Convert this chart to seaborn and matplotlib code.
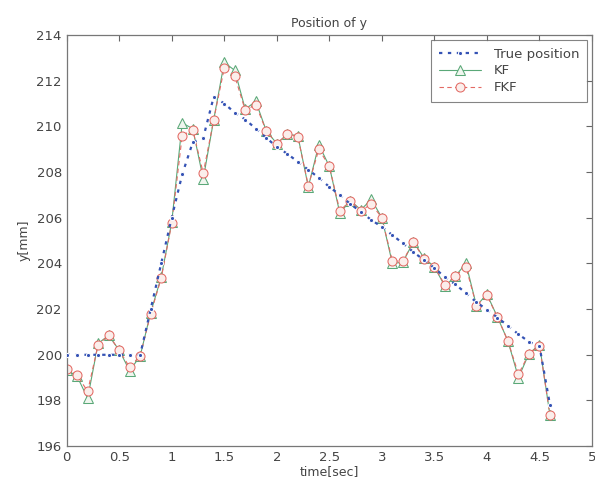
import pandas as pd
import matplotlib
matplotlib.use("Agg")
import matplotlib.pyplot as plt
import seaborn as sns

# time samples (sec)
t = [0.0, 0.1, 0.2, 0.3, 0.4, 0.5, 0.6, 0.7, 0.8, 0.9,
     1.0, 1.1, 1.2, 1.3, 1.4, 1.5, 1.6, 1.7, 1.8, 1.9,
     2.0, 2.1, 2.2, 2.3, 2.4, 2.5, 2.6, 2.7, 2.8, 2.9,
     3.0, 3.1, 3.2, 3.3, 3.4, 3.5, 3.6, 3.7, 3.8, 3.9,
     4.0, 4.1, 4.2, 4.3, 4.4, 4.5, 4.6]

true_pos = [200.0, 200.0, 200.0, 200.0, 200.0, 200.0, 200.0, 200.0, 202.0, 204.0,
            206.0, 207.9, 209.3, 209.5, 211.3, 211.0, 210.6, 210.3, 209.9, 209.5,
            209.1, 208.8, 208.45, 208.1, 207.75, 207.35, 207.0, 206.6, 206.26, 205.9,
            205.6, 205.24, 204.88, 204.5, 204.15, 203.8, 203.4, 203.08, 202.7, 202.3,
            201.98, 201.63, 201.27, 200.9, 200.57, 200.38, 197.8]

kf = [199.35, 199.05, 198.1, 200.5, 200.85, 200.2, 199.3, 199.95, 201.85, 203.4,
      205.8, 210.15, 209.9, 207.7, 210.3, 212.8, 212.45, 210.75, 211.1, 209.8,
      209.25, 209.65, 209.6, 207.35, 209.2, 208.25, 206.2, 206.75, 206.35, 206.8,
      206.0, 204.0, 204.05, 204.95, 204.25, 203.85, 203.0, 203.45, 204.0, 202.15,
      202.65, 201.65, 200.6, 199.0, 200.05, 200.45, 197.35]

fkf = [199.4, 199.1, 198.4, 200.45, 200.85, 200.2, 199.45, 199.95, 201.8, 203.35,
       205.75, 209.6, 209.85, 207.95, 210.3, 212.55, 212.2, 210.7, 210.95, 209.8,
       209.25, 209.65, 209.55, 207.4, 209.0, 208.25, 206.3, 206.75, 206.3, 206.6,
       206.0, 204.1, 204.1, 204.95, 204.2, 203.85, 203.05, 203.45, 203.85, 202.15,
       202.6, 201.65, 200.6, 199.15, 200.05, 200.4, 197.35]

x_ticks = [0, 0.5, 1, 1.5, 2, 2.5, 3, 3.5, 4, 4.5, 5]
x_labels = ["0", "0.5", "1", "1.5", "2", "2.5", "3", "3.5", "4", "4.5", "5"]
y_ticks = [196, 198, 200, 202, 204, 206, 208, 210, 212, 214]

df = pd.DataFrame({"time": t, "True position": true_pos, "KF": kf, "FKF": fkf})

sns.set_style("white")
plt.rcParams["font.family"] = ["DejaVu Sans"]
txt = "#444444"

fig = plt.figure(figsize=(5.95, 4.93), dpi=100)
ax = fig.add_axes([0.112, 0.095, 0.883, 0.834])

sns.lineplot(data=df, x="time", y="True position", ax=ax, color="#3553b5",
             linestyle=(0, (1.5, 2.5)), linewidth=1.6, marker=".", markersize=6,
             label="True position", zorder=3)
sns.lineplot(data=df, x="time", y="KF", ax=ax, color="#5aa878",
             linestyle="-", linewidth=0.8, marker="^", markersize=6.5,
             markerfacecolor="#f0f6ef", markeredgecolor="#5aa878",
             label="KF", zorder=2)
sns.lineplot(data=df, x="time", y="FKF", ax=ax, color="#e36a64",
             linestyle=(0, (4, 3)), linewidth=0.8, marker="o", markersize=6.5,
             markerfacecolor="#fbeeeb", markeredgecolor="#e36a64",
             label="FKF", zorder=2)

ax.set_xlim(0, 5)
ax.set_ylim(196, 214)
ax.set_xticks(x_ticks)
ax.set_xticklabels(x_labels)
ax.set_yticks(y_ticks)
ax.tick_params(direction="in", length=4, colors="#666666", labelcolor=txt,
               labelsize=9.5, top=True, right=True, width=0.8)
for s in ax.spines.values():
    s.set_color("#777777")
    s.set_linewidth(0.9)

ax.set_title("Position of y", fontsize=9, color=txt, pad=6)
ax.set_xlabel("time[sec]", fontsize=9, color=txt, labelpad=1)
ax.set_ylabel("y[mm]", fontsize=9, color=txt, labelpad=4)

leg = ax.legend(loc="upper right", fontsize=9.5, frameon=True, fancybox=False,
                borderaxespad=0.4, handlelength=3.2, handletextpad=1.0,
                labelspacing=0.3, borderpad=0.55)
leg.get_frame().set_edgecolor("#666666")
leg.get_frame().set_linewidth(0.8)
for tx in leg.get_texts():
    tx.set_color(txt)

fig.savefig("out.png", dpi=100)
